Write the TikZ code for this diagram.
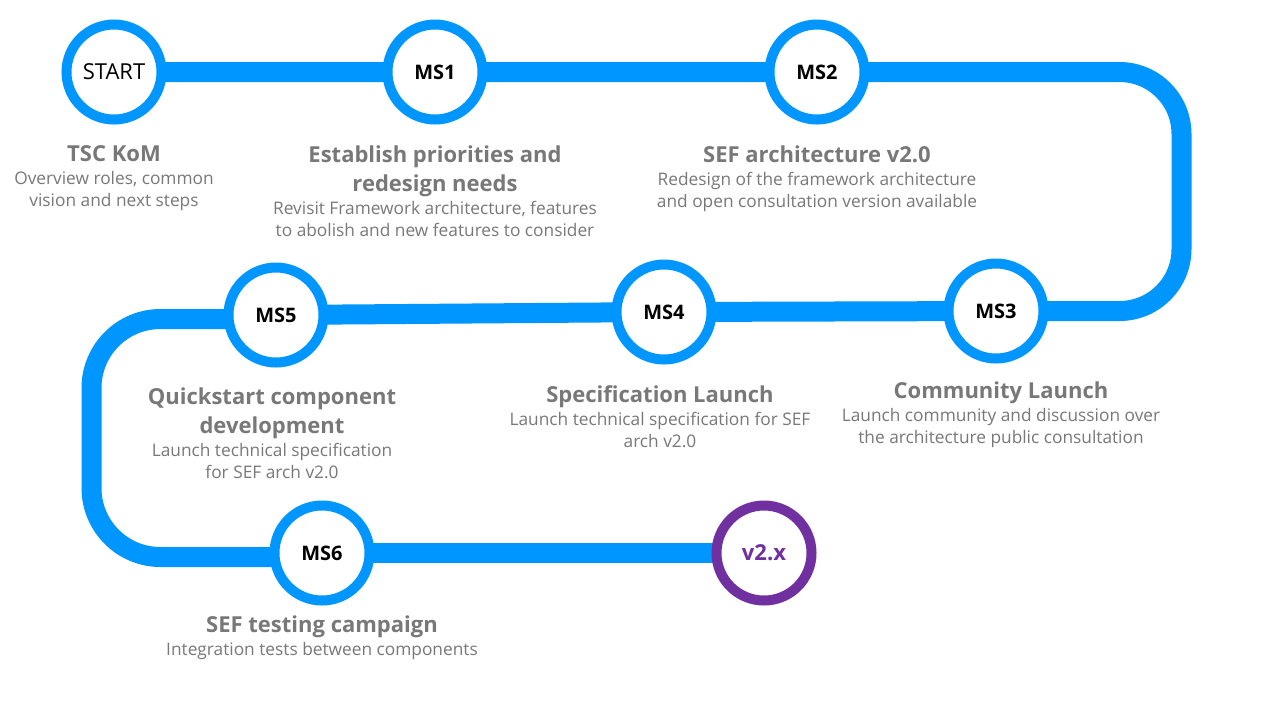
\documentclass[tikz,border=0pt]{standalone}
\usepackage{fontspec}
\setmainfont{Open Sans}
\usetikzlibrary{positioning,backgrounds}
\definecolor{trackblue}{RGB}{0,150,255}
\definecolor{endpurple}{RGB}{112,48,160}
\definecolor{notegray}{RGB}{120,120,120}
\newcommand{\tfont}{\bfseries\fontsize{11}{14.5}\selectfont}
\tikzset{
	stone/.style={circle, draw=trackblue, line width=5pt, fill=white, minimum size=47.5pt, inner sep=0pt, font=\fontsize{10}{12}\selectfont},
	laststone/.style={stone, draw=endpurple, text=endpurple, font=\fontsize{11}{13}\selectfont},
	track/.style={draw=trackblue, line width=10pt},
	msnote/.style={align=center, inner sep=0pt, text=notegray, font=\fontsize{8.65}{11}\selectfont}
}

\begin{document}
\begin{tikzpicture}[x=0.5pt, y=-0.5pt]
		%%%%% START %%%%%
		\useasboundingbox (0, 0) rectangle (1280, 720);
		
		\node[stone, font=\fontsize{11}{13}\selectfont] (start) at (114, 72) {START};
		\node[stone] (ms1) at (435, 72) {\bfseries MS1};
		\node[stone] (ms2) at (817, 72) {\bfseries MS2};
		\node[stone] (ms3) at (996, 311) {\bfseries MS3};
		\node[stone] (ms4) at (664, 312) {\bfseries MS4};
		\node[stone] (ms5) at (276, 315) {\bfseries MS5};
		\node[stone] (ms6) at (322, 553) {\bfseries MS6};
		\node[laststone] (final) at (764, 553) {\bfseries v2.x};
		
		\coordinate (cornerNE) at (1181.5, 72);
		\coordinate (cornerSE) at (1181.5, 311);
		\coordinate (cornerNW) at (91.5, 319);
		\coordinate (cornerSW) at (91.5, 557);
		
		\node[msnote, below=10.5pt of start] (startnote) {\tfont TSC KoM\\[0.25pt]Overview roles, common\\vision and next steps};
		\node[msnote, below=10.5pt of ms1] (ms1note) {\tfont Establish priorities and\\[3.5pt]\tfont redesign needs\\[0.25pt]Revisit Framework architecture, features\\to abolish and new features to consider};
		\node[msnote, below=10.5pt of ms2] (ms2note) {\tfont SEF architecture v2.0\\[0.25pt]Redesign of the framework architecture\\and open consultation version available};
		\node[msnote, below=9pt of ms3, xshift=2.5pt] (ms3note) {\tfont Community Launch\\[0.25pt]Launch community and discussion over\\the architecture public consultation};
		\node[msnote, below=10.5pt of ms4, xshift=-2pt] (ms4note) {\tfont Specification Launch\\[0.25pt]Launch technical specification for SEF\\arch v2.0};
		\node[msnote, below=10pt of ms5, xshift=-2pt] (ms5note) {\tfont Quickstart component\\[3.5pt]\tfont development\\[0.25pt]Launch technical specification\\for SEF arch v2.0};
		\node[msnote, below=5pt of ms6] (ms6note) {\tfont SEF testing campaign\\[0.25pt]Integration tests between components};
		
		\begin{scope}[on background layer]
			\fill[white] (0, 0) rectangle (1280, 720);
			\draw[track, rounded corners=31pt] (start.center) -- (ms1.center) -- (ms2.center) -- (cornerNE) -- (cornerSE) -- (ms3.center) -- (ms4.center) -- (ms5.center);
			\draw[track] (ms5.center) -- (ms5.center |- cornerNW);
			\draw[track, rounded corners=34.5pt] (ms5.center |- cornerNW) -- (cornerNW) -- (cornerSW) -- (ms6.center |- cornerSW);
			\draw[track] (ms6.center |- cornerSW) -- (ms6.center) -- (final.center);
		\end{scope}
		
		%%%%% END %%%%%
\end{tikzpicture}
\end{document}
